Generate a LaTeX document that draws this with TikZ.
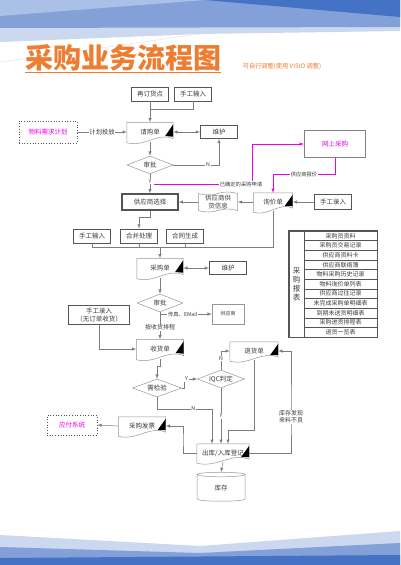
\documentclass[tikz,border=0pt]{standalone}
\usepackage{fontspec}
\setmainfont{Noto Sans CJK SC}
\usetikzlibrary{shapes.geometric,shapes.symbols,calc}

\definecolor{bandpale}{RGB}{170,192,230}
\definecolor{bandlight}{RGB}{203,216,239}
\definecolor{bandmid}{RGB}{132,160,216}
\definecolor{banddark}{RGB}{68,114,196}
\definecolor{titleorange}{RGB}{237,125,49}
\definecolor{linegray}{RGB}{125,125,125}
\definecolor{boxgray}{RGB}{85,85,85}
\definecolor{docgray}{RGB}{150,150,150}
\definecolor{txtgray}{RGB}{60,60,60}
\definecolor{pinkish}{RGB}{235,0,235}

\tikzset{
  box/.style={draw=boxgray, line width=0.7pt, fill=white, text=txtgray,
    font=\fontsize{6.5}{8}\selectfont, minimum width=37, minimum height=14, inner sep=1pt},
  thickbox/.style={box, line width=1.1pt},
  thinbox/.style={box, draw=docgray, line width=0.5pt, font=\fontsize{5}{6}\selectfont},
  dotbox/.style={draw=boxgray, dotted, line width=0.7pt, text=pinkish,
    font=\fontsize{6.5}{8}\selectfont, inner sep=1pt},
  docnode/.style={text=txtgray, font=\fontsize{6.5}{8}\selectfont, inner sep=0pt,
    minimum width=46, minimum height=19},
  decision/.style={diamond, draw=docgray, line width=0.5pt, fill=white, text=txtgray,
    aspect=2.6, inner sep=0pt, font=\fontsize{6.5}{8}\selectfont, minimum width=46, minimum height=18},
  conn/.style={draw=linegray, line width=0.5pt},
  magline/.style={draw=pinkish, line width=0.5pt},
  lbl/.style={fill=white, inner sep=0.8pt, text=txtgray, font=\fontsize{5.3}{6}\selectfont},
  cell/.style={draw=boxgray, line width=0.5pt, minimum width=73, minimum height=9.64,
    inner sep=0pt, text=txtgray, font=\fontsize{6}{7}\selectfont},
}

% document outline with wavy bottom and black corner mark
\newcommand{\docshape}[1]{%
  \draw[docgray, line width=0.5pt] (#1.north west) -- (#1.north east) -- ($(#1.south east)+(0,-3)$)
    .. controls ($(#1.south)+(8,-10)$) and ($(#1.south)+(-6,6)$) .. ($(#1.south west)+(0,1)$) -- cycle;
  \fill[black] ($(#1.east)+(-8,4)$) -- ($(#1.north east)+(0,2)$) -- ($(#1.south east)+(0,-5)$) -- cycle;
}

\begin{document}
\begin{tikzpicture}[x=1pt,y=-1pt]
  \tikzset{>=latex}
  \useasboundingbox (0,0) rectangle (400,565);
  \fill[white] (0,0) rectangle (400,565);
  % top and bottom bands
  \fill[bandlight] (0,0) -- (400,0) -- (400,31) -- (200,34) -- (0,42) -- cycle;
  \fill[bandmid] (0,0) -- (400,0) -- (400,27) -- (0,28) -- cycle;
  \fill[bandpale] (0,0) -- (205,0) -- (0,16) -- cycle;
  \fill[banddark] (205,0) -- (400,0) -- (400,17) -- cycle;
  \draw[black!12, line width=0.4pt] (0,62) -- (200,34);
  \fill[bandlight] (0,535) -- (200,546) -- (400,531) -- (400,565) -- (0,565) -- cycle;
  \fill[bandmid] (0,547) -- (200,553) -- (400,543) -- (400,565) -- (0,565) -- cycle;
  \fill[banddark] (0,558) -- (400,555) -- (400,565) -- (0,565) -- cycle;

  % title
  \node[text=titleorange, inner sep=0pt, font=\fontsize{28}{30}\selectfont\bfseries] (title) at (123,58) {采购业务流程图};
  \draw[titleorange, line width=1.3pt] ($(title.south west)+(0,1)$) -- ($(title.south east)+(0,1)$);
  \node[text=titleorange, inner sep=0pt, font=\fontsize{6.2}{7}\selectfont] (subtitle) at (282,66) {可自行调整(使用 VISIO 调整)};

  % nodes
  \node[box] (zaiding) at (150,94) {再订货点};
  \node[box] (shougongA) at (193,94) {手工输入};
  \node[dotbox, minimum width=58, minimum height=22] (wuliao) at (48,132) {物料需求计划};
  \node[docnode] (qinggou) at (150,132) {请购单};
  \node[box, minimum height=13] (weihuA) at (219,132) {维护};
  \node[decision] (shenpiA) at (150,165) {审批};
  \node[thickbox, draw=black!50, text=pinkish, minimum width=61, minimum height=27] (wangshang) at (335,144) {网上采购};
  \node[docnode, minimum width=39, minimum height=18] (xunjia) at (273,202) {询价单};
  \node[box, minimum height=15] (shougongC) at (333,202) {手工录入};
  \node[tape, draw=docgray, line width=0.5pt, text=txtgray, align=center, inner sep=0pt,
    tape bend height=3pt, minimum width=39, minimum height=20,
    font=\fontsize{6.5}{7.5}\selectfont] (gyxx) at (218,202) {供应商供\\货信息};
  \node[thickbox, minimum width=56, minimum height=16] (gysxz) at (150,202) {供应商选择};
  \node[box] (shougongB) at (92,236) {手工输入};
  \node[box] (hebing) at (139,236) {合并处理};
  \node[box] (hetong) at (185,236) {合同生成};
  \node[docnode] (caigou) at (160,268) {采购单};
  \node[box, minimum height=13] (weihuB) at (228,268) {维护};
  \node[decision] (shenpiB) at (160,303) {审批};
  \node[thinbox, minimum width=32, minimum height=20] (gys) at (228,314) {供应商};
  \node[docnode, minimum width=47] (shouhuo) at (160,349) {收货单};
  \node[thickbox, minimum width=61, minimum height=19, align=center,
    font=\fontsize{6.5}{7.5}\selectfont] (sgwd) at (99,315) {手工录入\\（无订单收货）};
  \node[decision, minimum width=49] (jianyan) at (157,388) {需检验};
  \node[decision, minimum width=47] (iqc) at (221,379) {IQC判定};
  \node[docnode, minimum width=48, minimum height=18] (tuihuo) at (254,351) {退货单};
  \node[docnode, minimum width=52, minimum height=18] (chuku) at (223,453) {出库/入库登记};
  \node[docnode, minimum width=47, minimum height=18] (fapiao) at (142,426) {采购发票};
  \node[dotbox, minimum width=50, minimum height=20] (yingfu) at (72,425) {应付系统};
  \node[cylinder, shape border rotate=90, draw=docgray, line width=0.5pt, text=txtgray,
    aspect=0.35, minimum width=48, minimum height=29, inner sep=0pt,
    font=\fontsize{6.5}{8}\selectfont] (kucun) at (221,488) {库存};

  \docshape{qinggou}
  \docshape{xunjia}
  \docshape{caigou}
  \docshape{shouhuo}
  \docshape{tuihuo}
  \docshape{chuku}
  \docshape{fapiao}

  % report table
  \node[draw=boxgray, line width=0.7pt, minimum width=15, minimum height=106, inner sep=0pt,
    align=center, text=txtgray, font=\fontsize{7.5}{9}\selectfont] (baobiao) at (296.5,284) {采\\购\\报\\表};
  \foreach \item [count=\i] in {采购员资料,采购员交易记录,供应商资料卡,供应商联络簿,物料采购历史记录,
    物料询价单列表,供应商过往记录,未完成采购单明细表,到期未送货明细表,采购进货排程表,退货一览表}
    \node[cell] (row\i) at (340.5,{231+9.64*(\i-0.5)}) {\item};
  \draw[boxgray, line width=0.8pt] (baobiao.north west) rectangle (row11.south east);

  % connectors
  \coordinate (joinA) at (150,109);
  \draw[conn,->] (zaiding.south) -- (qinggou.north);
  \draw[conn] (shougongA.south) |- (joinA);
  \draw[conn,->] (wuliao.east) -- (qinggou.west) node[lbl, midway, font=\fontsize{6.3}{7}\selectfont] {计划投放};
  \draw[conn,<->] (qinggou.east) -- (weihuA.west);
  \draw[conn,->] (qinggou.south) -- (shenpiA.north);
  \draw[conn,->] (shenpiA.east) -| (weihuA.south) node[lbl, pos=0.38] {N};
  \draw[conn,->] (shenpiA.south) -- (gysxz.north) node[lbl, pos=0.37] {Y};

  \coordinate (forkA) at (154,184);
  \coordinate (bendA) at (252,184);
  \draw[magline,->] (forkA) -- (bendA) |- (wangshang.west);
  \node[lbl] (lblA) at (241,184) {已确定的采购申请};
  \coordinate (bendB) at (273,174);
  \draw[magline,->] (wangshang.south) |- (bendB) -- (xunjia.north);
  \node[lbl] (lblB) at (304,174) {供应商报价};

  \draw[conn,->] (shougongC.west) -- (xunjia.east);
  \draw[conn,->] (xunjia.west) -- (gyxx.east);
  \draw[conn,->] (gyxx.west) -- (gysxz.east);
  \draw[conn,->] (gysxz.south) -- ++(0,7) -| (hebing.north);

  \coordinate (merge) at (160,247);
  \draw[conn] (shougongB.south) |- (merge);
  \draw[conn] (hebing.south) |- (merge);
  \draw[conn] (hetong.south) |- (merge);
  \draw[conn] (xunjia.south) |- (merge);
  \draw[conn,->] (merge) -- (caigou.north);

  \draw[conn,<->] (caigou.east) -- (weihuB.west);
  \draw[conn,->] (caigou.south) -- (shenpiB.north);
  \draw[conn,->] (shenpiB.south) |- (gys.west) node[lbl, pos=0.72] {传真、EMail};
  \draw[conn,->] (shenpiB.south) -- (shouhuo.north) node[lbl, pos=0.55, font=\fontsize{6}{7}\selectfont] {按收货排程};
  \draw[conn,->] (sgwd.south) |- (shouhuo.west);
  \draw[conn,->] (shouhuo.south) -- ++(0,8) -| (jianyan.north);
  \draw[conn,->] (jianyan.east) -- ++(2,0) |- (iqc.west) node[lbl, pos=0.6] {Y};
  \draw[conn,->] (iqc.north) |- (tuihuo.west) node[lbl, pos=0.3] {N};
  \draw[conn,->] (iqc.south) -- (iqc.south |- chuku.north) node[lbl, midway] {Y};

  \coordinate (nturn) at (212,409);
  \draw[conn,->] (jianyan.south) |- (nturn) node[lbl, pos=0.83] {N} -- (nturn |- chuku.north);
  \draw[conn,->] (tuihuo.south) -- ++(0,70) -| ($(chuku.north)+(5,0)$);

  \coordinate (rline) at (291,417);
  \draw[conn,->] (chuku.east) -| (rline) |- (tuihuo.east);
  \node[lbl, align=center, font=\fontsize{6}{7}\selectfont] (lblC) at (rline) {库存发现\\来料不良};

  \coordinate (lbend) at (183,440);
  \draw[conn,->] (chuku.west) -| (lbend) |- (fapiao.east);
  \draw[conn,->] (fapiao.west) -- (yingfu.east);
  \draw[conn,->] (chuku.south) -- (kucun.north);
\end{tikzpicture}
\end{document}
